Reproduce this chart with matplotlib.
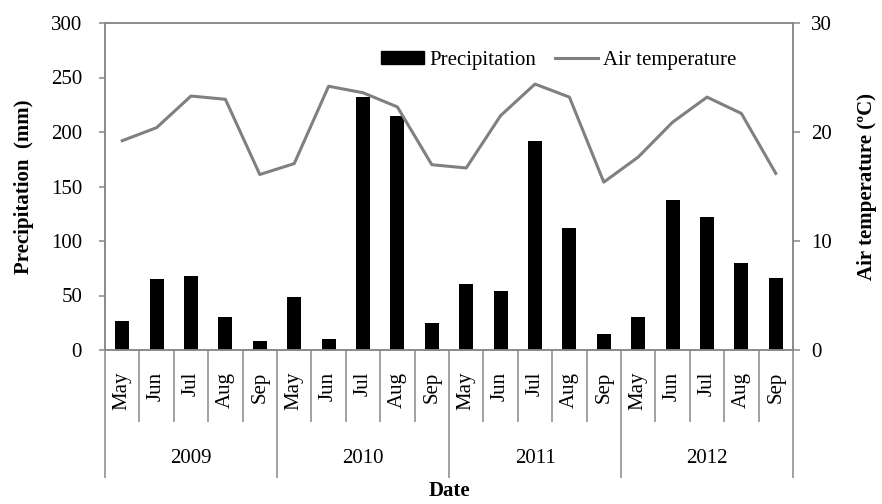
import matplotlib
matplotlib.use("Agg")
import matplotlib.pyplot as plt
import numpy as np
from matplotlib.lines import Line2D
from matplotlib.patches import Patch

plt.rcParams['font.family'] = ['Liberation Serif', 'DejaVu Serif']

years = ["2009", "2010", "2011", "2012"]
months = ["May", "Jun", "Jul", "Aug", "Sep"]
precipitation = [27, 65, 68, 30, 8,
                 49, 10, 232, 215, 25,
                 61, 54, 192, 112, 15,
                 30, 138, 122, 80, 66]
air_temperature = [19.2, 20.4, 23.3, 23.0, 16.1,
                   17.1, 24.2, 23.6, 22.3, 17.0,
                   16.7, 21.5, 24.4, 23.2, 15.4,
                   17.7, 20.9, 23.2, 21.7, 16.2]

grey = '#878787'
fs = 15

fig = plt.figure(figsize=(8.82, 5.04), dpi=100)
ax = fig.add_axes([105/882, 1-350/504, 688/882, 327/504])
n = len(precipitation)
x = np.arange(n)
ax.bar(x, precipitation, width=0.41, color='black', zorder=2)
ax.set_xlim(-0.5, n-0.5)
ax.set_ylim(0, 300)
ax.set_yticks([0, 50, 100, 150, 200, 250, 300])
ax.tick_params(axis='y', direction='out', length=4.5, width=1.1, color=grey,
               pad=12, labelsize=fs)
ax.set_ylabel("Precipitation  (mm)", fontsize=fs, fontweight='bold', labelpad=12)

# x axis: month boundaries (minor) and year boundaries (major)
nm = len(months)
ax.set_xticks([-0.5 + nm*k for k in range(len(years)+1)])
ax.set_xticks([i - 0.5 for i in range(1, n) if i % nm != 0], minor=True)
ax.tick_params(axis='x', which='major', direction='out', length=92, width=1.1,
               color=grey, labelbottom=False)
ax.tick_params(axis='x', which='minor', direction='out', length=52, width=1.1,
               color=grey, labelbottom=False)

for sp in ax.spines.values():
    sp.set_color(grey)
    sp.set_linewidth(1.1)

tr = matplotlib.transforms.blended_transform_factory(ax.transData, ax.transAxes)
for i in range(n):
    ax.text(i, -0.066, months[i % nm], rotation=90, ha='center', va='top',
            fontsize=fs, transform=tr)
for k, yr in enumerate(years):
    ax.text(nm*k + (nm-1)/2, -0.332, yr, ha='center', va='center',
            fontsize=fs, transform=tr)
ax.text(0.5, -0.432, "Date", ha='center', va='center', fontsize=fs,
        fontweight='bold', transform=ax.transAxes)

ax2 = ax.twinx()
ax2.plot(x, air_temperature, color='#808080', lw=2.2, zorder=3)
ax2.set_ylim(0, 30)
ax2.set_yticks([0, 10, 20, 30])
ax2.tick_params(axis='y', direction='out', length=5, width=1.1, color=grey,
                pad=8, labelsize=fs)
ax2.set_ylabel("Air temperature (ºC)", fontsize=fs, fontweight='bold', labelpad=18)
for sp in ax2.spines.values():
    sp.set_color(grey)
    sp.set_linewidth(1.1)

handles = [Patch(facecolor='black', edgecolor='black'),
           Line2D([0], [0], color='#808080', lw=2.2)]
leg = ax2.legend(handles, ["Precipitation", "Air temperature"], ncol=2,
                 frameon=False, fontsize=fs, loc='center right',
                 bbox_to_anchor=(0.918, 0.885), borderaxespad=0, borderpad=0,
                 handlelength=2.07, handleheight=0.55, handletextpad=0.25,
                 columnspacing=0.9)

fig.savefig("out.png", dpi=100)
